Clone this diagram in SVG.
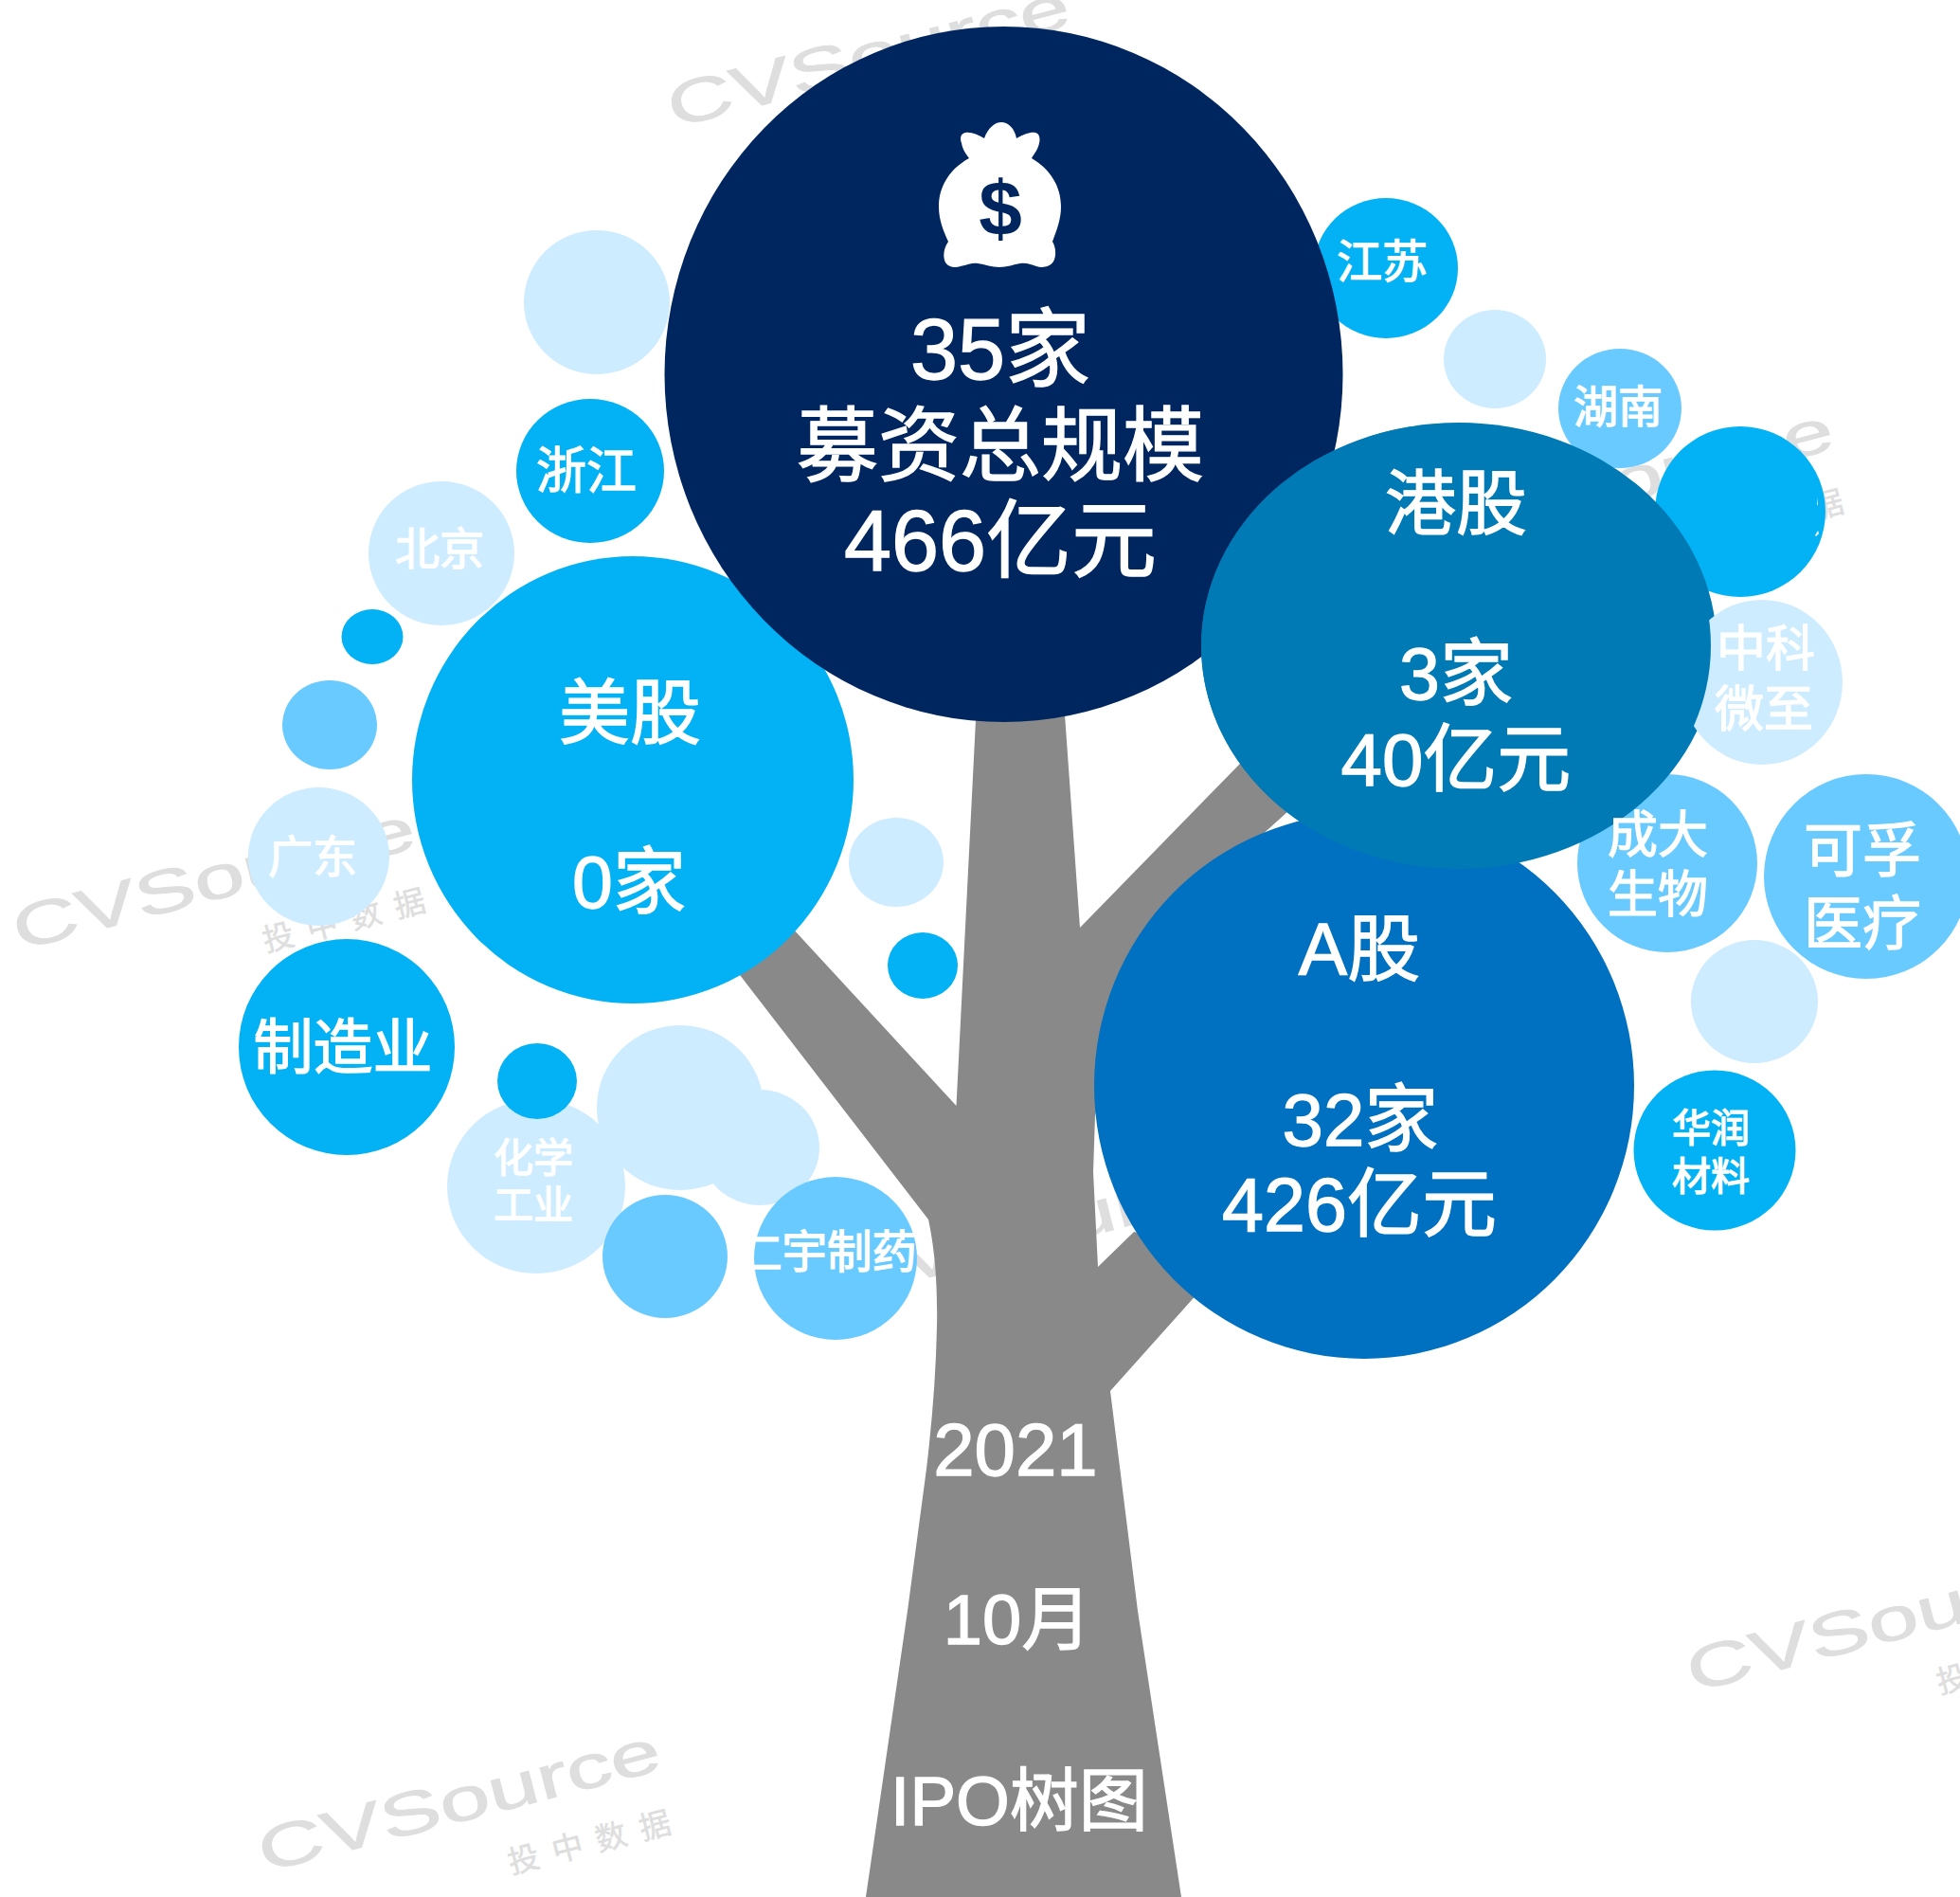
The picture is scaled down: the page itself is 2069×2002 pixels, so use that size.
<svg xmlns="http://www.w3.org/2000/svg" width="2069" height="2002" viewBox="0 0 2069 2002">
<style>
text{font-family:"Liberation Sans","Noto Sans CJK SC",sans-serif;fill:#fff;text-anchor:middle;stroke:#fff;stroke-width:1.300}
.wm text{fill:#dedede;stroke:#dedede;stroke-width:.5;text-anchor:start}
.l{fill:#cdecff}.m{fill:#69caff}.b{fill:#03b2f4}
</style>
<defs>
<g id="wm" class="wm">
<text x="0" y="0" font-size="64" textLength="436" lengthAdjust="spacingAndGlyphs" style="stroke-width:1">CVSource</text>
<text x="252" y="67" font-size="33" textLength="176" lengthAdjust="spacing">投中数据</text>
</g>
</defs>
<rect width="2069" height="2002" fill="#fff"/>
<g id="watermarks">
<use href="#wm" transform="translate(279,1976) rotate(-14.500)"/>
<use href="#wm" transform="translate(20,1003) rotate(-14.500)"/>
<use href="#wm" transform="translate(1787,1786) rotate(-14.500)"/>
<use href="#wm" transform="translate(711,135) rotate(-14.500)"/>
<use href="#wm" transform="translate(1517,582) rotate(-14.500)"/>
<use href="#wm" transform="translate(888,1372) rotate(-14.500)"/>
</g>
<g id="connectors">
<path d="M1031 740L1009.5 1167L800 940L781 1029L980 1287C986 1315 990 1350 989 1400C988 1450 984 1500 978 1550L958 1700L914 2002H1247L1201 1700L1172 1468L1300 1325L1197 1300L1159 1337L1154 1237L1156 1177L1200 1000L1400 820L1350 764L1306 809L1140 979L1123 740Z" fill="#898989"/>
</g>
<g id="node-light-1"><ellipse class="l" cx="630" cy="319" rx="77" ry="76"/></g>
<g id="node-zhejiang"><ellipse class="b" cx="623" cy="497" rx="78" ry="76"/><text x="619" y="516" font-size="53">浙江</text></g>
<g id="node-beijing"><ellipse class="l" cx="466" cy="584" rx="77" ry="76"/><text x="464" y="596" font-size="47">北京</text></g>
<g id="node-blue-small-1"><ellipse class="b" cx="393" cy="672" rx="32.500" ry="29"/></g>
<g id="node-mid-1"><ellipse class="m" cx="348" cy="765" rx="50" ry="47"/></g>
<g id="node-guangdong"><ellipse class="l" cx="336.500" cy="904" rx="74.500" ry="73"/><text x="330" y="921" font-size="47">广东</text></g>
<g id="node-zhizao"><ellipse class="b" cx="366" cy="1105" rx="114" ry="114"/><text x="362" y="1127" font-size="63">制造业</text></g>
<g id="node-huaxue"><ellipse class="l" cx="566" cy="1252" rx="94" ry="92"/><text x="563" y="1237" font-size="42">化学</text><text x="563" y="1287" font-size="42">工业</text></g>
<g id="node-light-2"><ellipse class="l" cx="718" cy="1169" rx="88" ry="87"/></g>
<g id="node-light-3"><ellipse class="l" cx="802" cy="1211" rx="63" ry="61"/></g>
<g id="node-blue-small-2"><ellipse class="b" cx="567" cy="1141" rx="42" ry="40"/></g>
<g id="node-mid-2"><ellipse class="m" cx="702" cy="1326" rx="66" ry="65"/></g>
<g id="node-renyu"><ellipse class="m" cx="882" cy="1328" rx="86" ry="86"/><text x="873" y="1338" font-size="47.500">仁宇制药</text></g>
<g id="node-light-4"><ellipse class="l" cx="946" cy="910" rx="50" ry="47"/></g>
<g id="node-blue-small-3"><ellipse class="b" cx="974" cy="1019" rx="37" ry="35"/></g>
<g id="node-us"><ellipse class="b" cx="668" cy="823" rx="233" ry="236"/><text x="665" y="779" font-size="75">美股</text><text x="664" y="958" font-size="77">0家</text></g>
<g id="node-jiangsu"><ellipse class="b" cx="1463" cy="283" rx="76" ry="74"/><text x="1459" y="293" font-size="48">江苏</text></g>
<g id="node-light-5"><ellipse class="l" cx="1578" cy="379" rx="54" ry="52"/></g>
<g id="node-total"><ellipse cx="1059.500" cy="395" rx="358" ry="367" fill="#00265f"/>
<path d="M1039 146C1043 135 1050 129 1057 129C1064 129 1071 135 1073 146C1080 142 1088 139 1093 140C1098 141 1098 148 1097 151C1096 157 1092 162 1089 167C1108 178 1120 196 1120 218C1120 232 1115 244 1111 255C1115 262 1115 270 1112 276C1108 282 1100 283 1094 281C1088 279 1083 277 1077 278C1070 279 1063 282 1055 282C1047 282 1040 279 1032 278C1026 277 1020 280 1014 281C1008 283 1001 282 998 277C995 271 996 262 1001 255C996 244 991 232 991 218C991 196 1003 178 1023 167C1019 162 1016 157 1015 151C1013 146 1014 141 1019 140C1025 139 1032 142 1039 146Z" fill="#fff"/>
<text x="1056" y="248" font-size="82" font-weight="700" style="fill:#00265f;stroke:none">$</text>
<text x="1056" y="400" font-size="90">35家</text><text x="1056" y="501" font-size="86">募资总规模</text><text x="1056" y="602" font-size="90">466亿元</text></g>
<g id="node-a"><ellipse cx="1440" cy="1146" rx="285" ry="288" fill="#0070c0"/><text x="1435" y="1029" font-size="77">A股</text><text x="1436" y="1209" font-size="78">32家</text><text x="1435" y="1299" font-size="79">426亿元</text></g>
<g id="node-hunan"><ellipse class="m" cx="1710" cy="431" rx="65" ry="63"/><text x="1708" y="446" font-size="47">湖南</text></g>
<g id="node-blue-empty"><ellipse class="b" cx="1837" cy="540" rx="90" ry="90"/>
<path d="M1918 525l1 8l-1 0zM1916 565l3-5l1 3l-3 3z" fill="#fff"/></g>
<g id="node-chengda"><ellipse class="m" cx="1760" cy="911" rx="95" ry="94"/></g>
<g id="node-kefu"><ellipse class="m" cx="1970" cy="925" rx="108" ry="108"/><text x="1966" y="920" font-size="62">可孚</text><text x="1966" y="997" font-size="62">医疗</text></g>
<g id="node-light-6"><ellipse class="l" cx="1852" cy="1057" rx="67" ry="65"/></g>
<g id="node-huarun"><ellipse class="b" cx="1810" cy="1214" rx="85.500" ry="84.500"/><text x="1806" y="1205" font-size="41">华润</text><text x="1806" y="1256" font-size="41">材料</text></g>
<g id="node-hk"><ellipse cx="1540" cy="681.500" rx="272" ry="235.500" fill="#007ab5"/></g>
<g id="node-zhongke"><ellipse class="l" cx="1860" cy="720" rx="85" ry="87"/></g>
<g id="node-hk-face"><ellipse cx="1537" cy="681.500" rx="269" ry="235" fill="#007ab5"/><text x="1537" y="558" font-size="75">港股</text><text x="1537" y="738" font-size="77">3家</text><text x="1537" y="829" font-size="78">40亿元</text></g>
<g id="node-zhongke-label"><text x="1864" y="703" font-size="52">中科</text><text x="1862" y="767" font-size="52">微至</text></g>
<g id="node-chengda-label"><text x="1750" y="900" font-size="53">成大</text><text x="1750" y="963" font-size="53">生物</text></g>
<g id="node-trunk-label"><text x="1072" y="1557" font-size="78">2021</text><text x="1074" y="1735" font-size="74">10月</text><text x="1076" y="1926" font-size="73">IPO树图</text></g>
</svg>
